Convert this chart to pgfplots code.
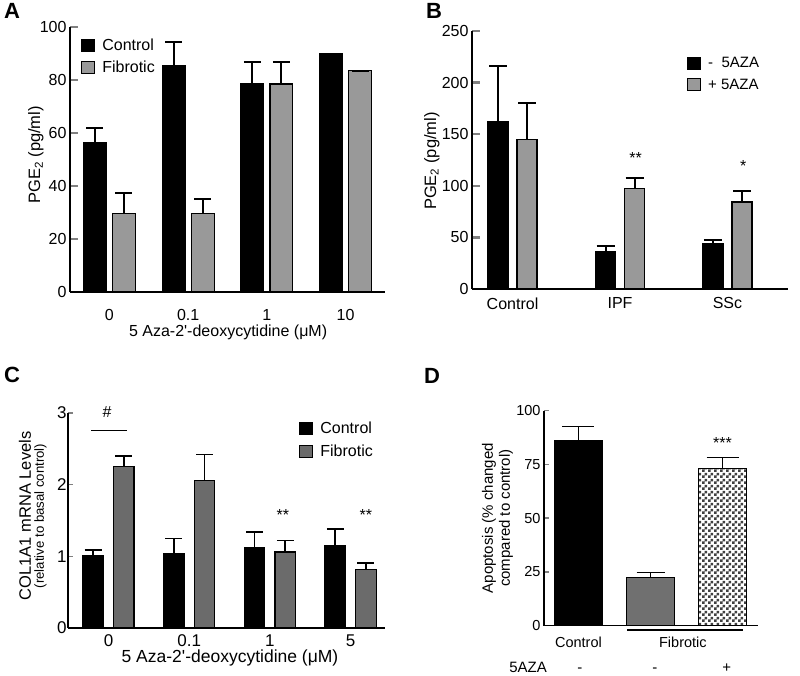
\documentclass[border=0pt]{standalone}
\usepackage{fontspec}
\setmainfont{Liberation Sans}
\usepackage{pgfplots}
\pgfplotsset{compat=1.18}
\usetikzlibrary{patterns}

\pgfdeclarepatternformonly{checker}{\pgfpointorigin}{\pgfqpoint{6pt}{6pt}}{\pgfqpoint{6pt}{6pt}}{%
  \pgfpathrectangle{\pgfpointorigin}{\pgfqpoint{3pt}{3pt}}%
  \pgfpathrectangle{\pgfqpoint{3pt}{3pt}}{\pgfqpoint{3pt}{3pt}}%
  \pgfusepath{fill}}

\definecolor{grayA}{HTML}{999999}
\definecolor{grayC}{HTML}{6B6B6B}
\definecolor{grayD}{HTML}{707070}

\newcommand{\fs}[1]{\fontsize{#1}{#1}\selectfont}

\pgfplotsset{
  panel/.style={scale only axis, axis x line*=bottom, axis y line*=left,
    tick align=inside, xtick style={draw=none}, ymin=0, clip=false,
    /pgf/number format/assume math mode=true,
    legend cell align=left},
  barlegend/.style={legend image code/.code={\draw[##1, line width=1pt] (0pt,-6pt) rectangle (13pt,6pt); \path (18pt,0pt);}},
  cbar/.style={ybar, bar shift=0pt, barlegend, draw=black, line width=1.2pt},
  ebars/.style 2 args={
    /pgfplots/error bars/y dir=plus,
    /pgfplots/error bars/y explicit,
    /pgfplots/error bars/error bar style={line width=#2, black},
    /pgfplots/error bars/error mark options={rotate=90, mark size=#1, line width=#2, black}},
}

\begin{document}
\begin{tikzpicture}
\path[use as bounding box] (0pt,0pt) rectangle (800pt,676pt);

% panel letters
\node[font=\fs{22}\bfseries] at (12pt,665pt) {A};
\node[font=\fs{22}\bfseries] at (434pt,665pt) {B};
\node[font=\fs{22}\bfseries] at (12pt,301pt) {C};
\node[font=\fs{22}\bfseries] at (432pt,300pt) {D};

% ---------------- A ----------------
\begin{axis}[panel,
  at={(70pt,384pt)}, anchor=south west,
  width=315pt, height=265pt,
  xmin=-0.5, xmax=3.5, ymax=100,
  ytick={0,20,40,60,80,100},
  xtick={0,1,2,3}, xticklabels={0,0.1,1,10},
  axis line style={line width=2.5pt},
  major tick length=8pt,
  every tick/.append style={line width=2.5pt},
  tick label style={font=\fs{16}},
  xticklabel style={yshift=-14pt},
  xlabel={5 Aza-2\textquotesingle-deoxycytidine (μM)},
  xlabel style={at={(axis description cs:0.502,-0.151)}, anchor=center, font=\fs{16}},
  ylabel={PGE\textsubscript{2} (pg/ml)},
  ylabel style={at={(axis description cs:-0.108,0.517)}, anchor=center, font=\fs{16.5}},
  legend style={at={(0.035,0.962)}, anchor=north west, draw=none, fill=none,
    inner sep=0pt, row sep=5pt, font=\fs{16}},
]
\addplot[cbar, fill=black, bar width=0.29, ebars={8.5pt}{2pt}]
  table[x=x, y=y, y error=e] {
x y e
-0.185 56.5 5.5
0.815 85.5 8.7
1.815 78.5 8.4
2.815 89.8 0
};
\addlegendentry{Control}
\addplot[cbar, fill=grayA, bar width=0.29, ebars={8.5pt}{2pt}]
  table[x=x, y=y, y error=e] {
x y e
0.185 29.5 8.0
1.185 29.5 5.7
2.185 78.5 8.4
3.185 83.5 0
};
\addlegendentry{Fibrotic}
\end{axis}

% ---------------- B ----------------
\begin{axis}[panel,
  at={(472pt,387pt)}, anchor=south west,
  width=316pt, height=258pt,
  xmin=-0.377, xmax=2.563, ymax=250,
  ytick={0,50,100,150,200,250},
  xtick={0,1,2}, xticklabels={Control,IPF,SSc},
  axis line style={line width=2.5pt},
  major tick length=8pt,
  every tick/.append style={line width=2.5pt},
  tick label style={font=\fs{16}},
  xticklabel style={yshift=-5pt},
  ylabel={PGE\textsubscript{2} (pg/ml)},
  ylabel style={at={(axis description cs:-0.127,0.496)}, anchor=center, font=\fs{16.5}},
  legend style={at={(0.68,0.907)}, anchor=north west, draw=none, fill=none,
    inner sep=0pt, row sep=6pt, font=\fs{15}},
]
\addplot[cbar, fill=black, bar width=0.186, ebars={9pt}{2pt}]
  table[x=x, y=y, y error=e] {
x y e
-0.135 162.2 53.8
0.865 36.4 5.5
1.865 43.9 3.8
};
\addlegendentry{-\ \ 5AZA}
\addplot[cbar, fill=grayA, bar width=0.186, ebars={9pt}{2pt}]
  table[x=x, y=y, y error=e] {
x y e
0.135 144.5 36.1
1.135 97.1 10.9
2.135 84.2 11.0
};
\addlegendentry{+ 5AZA}
\node[font=\fs{16}] at (axis cs:1.146,127) {**};
\node[font=\fs{16}] at (axis cs:2.147,119) {*};
\end{axis}

% ---------------- C ----------------
\begin{axis}[panel,
  at={(68pt,48pt)}, anchor=south west,
  width=317pt, height=215pt,
  xmin=-0.502, xmax=3.426, ymax=3,
  ytick={0,1,2,3},
  xtick={0,1,2,3}, xticklabels={0,0.1,1,5},
  axis line style={line width=1.6pt},
  major tick length=5pt,
  every tick/.append style={line width=1.6pt},
  tick label style={font=\fs{17}},
  yticklabel style={xshift=2pt},
  xticklabel style={yshift=-3pt},
  xlabel={5 Aza-2\textquotesingle-deoxycytidine (μM)},
  xlabel style={at={(axis description cs:0.511,-0.14)}, anchor=center, font=\fs{17.5}},
  ylabel={COL1A1 mRNA Levels},
  ylabel style={at={(axis description cs:-0.1356,0.521)}, anchor=center, font=\fs{16.5}},
  legend style={at={(0.729,0.967)}, anchor=north west, draw=none, fill=none,
    inner sep=0pt, row sep=6pt, font=\fs{16}},
]
\addplot[cbar, fill=black, bar width=0.254, ebars={8.5pt}{1.6pt}]
  table[x=x, y=y, y error=e] {
x y e
-0.19 1.01 0.08
0.81 1.04 0.21
1.81 1.12 0.22
2.81 1.15 0.23
};
\addlegendentry{Control}
\addplot[cbar, fill=grayC, bar width=0.254, ebars={8.5pt}{1.6pt}]
  table[x=x, y=y, y error=e] {
x y e
0.19 2.25 0.15
1.19 2.06 0.36
2.19 1.06 0.16
3.19 0.82 0.09
};
\addlegendentry{Fibrotic}
\addplot[black, line width=1.2pt, forget plot] coordinates {(-0.217,2.76) (0.229,2.76)};
\node[font=\fs{16}] at (axis cs:-0.019,3.01) {\#};
\node[font=\fs{16}] at (axis cs:2.16,1.58) {**};
\node[font=\fs{16}] at (axis cs:3.19,1.58) {**};
\node[rotate=90, font=\fs{13.2}] at (axis description cs:-0.0868,0.521) {(relative to basal control)};
\end{axis}

% ---------------- D ----------------
\begin{axis}[panel,
  at={(544pt,50.3pt)}, anchor=south west,
  width=214pt, height=215pt,
  xmin=-0.479, xmax=2.493, ymax=100,
  ytick={0,25,50,75,100},
  xtick={0,1.45}, xticklabels={Control,Fibrotic},
  axis line style={line width=1.6pt},
  major tick length=5pt,
  every tick/.append style={line width=1.6pt},
  tick label style={font=\fs{14.5}},
  xticklabel style={yshift=-8pt},
  ylabel={Apoptosis (\% changed\\compared to control)},
  ylabel style={at={(axis description cs:-0.217,0.5)}, anchor=center, align=center, font=\fontsize{15}{17}\selectfont},
]
\addplot[cbar, fill=black, bar width=0.667, ebars={16pt}{1.6pt}]
  table[x=x, y=y, y error=e] {
x y e
0 85.9 6.7
};
\addplot[cbar, fill=grayD, bar width=0.667, ebars={14pt}{1.6pt}]
  table[x=x, y=y, y error=e] {
x y e
1 22.5 2.3
};
\addplot[cbar, fill=white, postaction={pattern=checker, pattern color=black!75}, bar width=0.667, ebars={16pt}{1.6pt}]
  table[x=x, y=y, y error=e] {
x y e
2 73.2 5.1
};
\addplot[black, line width=1.2pt] coordinates {(0.674,-2) (2.285,-2)};
\node[font=\fs{16}] at (axis cs:2,85.0) {***};
\node[font=\fs{15}, anchor=base] at (axis cs:-0.70,-21.9) {5AZA};
\node[font=\fs{15}, anchor=base] at (axis cs:0.02,-21.9) {-};
\node[font=\fs{15}, anchor=base] at (axis cs:1.06,-21.9) {-};
\node[font=\fs{15}, anchor=base] at (axis cs:2.06,-21.9) {+};
\end{axis}
\end{tikzpicture}
\end{document}
